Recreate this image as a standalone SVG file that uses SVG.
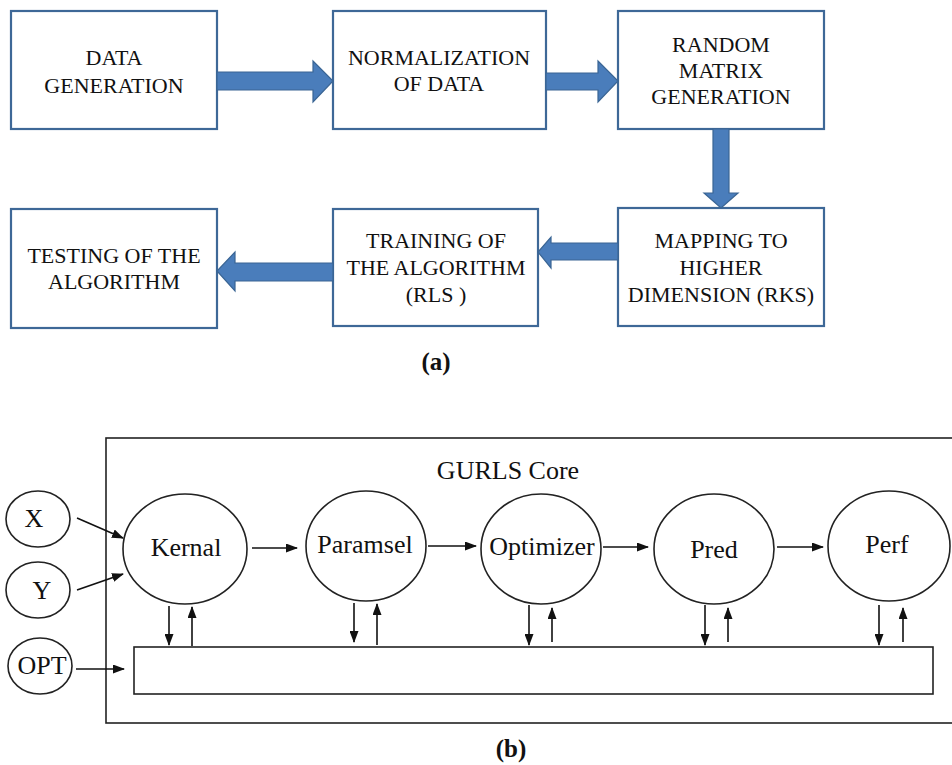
<svg xmlns="http://www.w3.org/2000/svg" width="952" height="765" viewBox="0 0 952 765">
  <defs>
    <style>
      .box { fill: #ffffff; stroke: #3e6897; stroke-width: 2.2; }
      .big { fill: #4a7dbb; stroke: #3a6594; stroke-width: 1.2; }
      text { font-family: 'Liberation Serif', 'DejaVu Serif', 'Times New Roman', serif; fill: #111; text-anchor: middle; }
      .t { font-size: 22px; }
      .tb { font-size: 26px; }
      .cap { font-size: 25px; font-weight: bold; }
      .shape { fill: #ffffff; stroke: #222; stroke-width: 1.6; }
      .ln { fill: none; stroke: #111; stroke-width: 1.6; marker-end: url(#ah); }
    </style>
    <marker id="ah" viewBox="0 0 12 9" refX="11" refY="4.5" markerWidth="12" markerHeight="9" markerUnits="userSpaceOnUse" orient="auto">
      <path d="M0,0 L12,4.5 L0,9 z" fill="#111"/>
    </marker>
  </defs>

  <!-- (a) pipeline -->
  <g id="a-data-generation">
    <rect class="box" x="11" y="11" width="206" height="118"/>
    <text class="t" x="114" y="65">DATA</text>
    <text class="t" x="114" y="93">GENERATION</text>
  </g>
  <g id="a-normalization">
    <rect class="box" x="333" y="11" width="213" height="118"/>
    <text class="t" x="439" y="65">NORMALIZATION</text>
    <text class="t" x="439" y="91">OF DATA</text>
  </g>
  <g id="a-random-matrix">
    <rect class="box" x="618" y="11" width="206" height="118"/>
    <text class="t" x="721" y="52">RANDOM</text>
    <text class="t" x="721" y="78">MATRIX</text>
    <text class="t" x="721" y="104">GENERATION</text>
  </g>
  <g id="a-mapping">
    <rect class="box" x="618" y="208" width="206" height="118"/>
    <text class="t" x="721" y="248">MAPPING TO</text>
    <text class="t" x="721" y="275">HIGHER</text>
    <text class="t" x="721" y="302">DIMENSION (RKS)</text>
  </g>
  <g id="a-training">
    <rect class="box" x="333" y="209" width="205" height="117"/>
    <text class="t" x="436" y="248">TRAINING OF</text>
    <text class="t" x="436" y="275">THE ALGORITHM</text>
    <text class="t" x="436" y="302">(RLS )</text>
  </g>
  <g id="a-testing">
    <rect class="box" x="11" y="209" width="206" height="119"/>
    <text class="t" x="114" y="263">TESTING OF THE</text>
    <text class="t" x="114" y="289">ALGORITHM</text>
  </g>

  <g id="a-connectors">
    <path class="big" d="M217,72 L313,72 L313,61 L333,81 L313,102 L313,90 L217,90 z"/>
    <path class="big" d="M546,73 L598,73 L598,61 L618,81 L598,102 L598,90 L546,90 z"/>
    <path class="big" d="M713,129 L729,129 L729,193 L738,193 L721,208 L704,193 L713,193 z"/>
    <path class="big" d="M618,243 L551,243 L551,237 L538,252 L551,268 L551,260 L618,260 z"/>
    <path class="big" d="M333,263 L235,263 L235,252 L217,271 L235,291 L235,281 L333,281 z"/>
  </g>

  <text class="cap" x="436" y="370">(a)</text>

  <!-- (b) GURLS core -->
  <g id="b-core">
    <rect x="106" y="438" width="860" height="285" fill="none" stroke="#222" stroke-width="1.6"/>
    <text class="tb" x="508" y="479">GURLS Core</text>
  </g>
  <g id="b-x">
    <ellipse class="shape" cx="38" cy="519" rx="32" ry="28"/>
    <text class="tb" x="34" y="527">X</text>
  </g>
  <g id="b-y">
    <ellipse class="shape" cx="38" cy="590" rx="32" ry="28"/>
    <text class="tb" x="42" y="599">Y</text>
  </g>
  <g id="b-opt">
    <ellipse class="shape" cx="40" cy="666" rx="32" ry="28"/>
    <text class="tb" x="42" y="674">OPT</text>
  </g>
  <g id="b-kernal">
    <ellipse class="shape" cx="185" cy="549" rx="62" ry="55"/>
    <text class="tb" x="186" y="556">Kernal</text>
  </g>
  <g id="b-paramsel">
    <ellipse class="shape" cx="366" cy="546" rx="60" ry="55"/>
    <text class="tb" x="365" y="553">Paramsel</text>
  </g>
  <g id="b-optimizer">
    <ellipse class="shape" cx="541" cy="549" rx="60" ry="55"/>
    <text class="tb" x="542" y="555">Optimizer</text>
  </g>
  <g id="b-pred">
    <ellipse class="shape" cx="714" cy="549" rx="60" ry="55"/>
    <text class="tb" x="714" y="558">Pred</text>
  </g>
  <g id="b-perf">
    <ellipse class="shape" cx="889" cy="546" rx="61" ry="55"/>
    <text class="tb" x="887" y="553">Perf</text>
  </g>
  <g id="b-store">
    <rect class="shape" x="134" y="647" width="799" height="47"/>
  </g>

  <g id="b-connectors">
    <line class="ln" x1="77" y1="518" x2="123" y2="538"/>
    <line class="ln" x1="77" y1="590" x2="123" y2="574"/>
    <line class="ln" x1="76" y1="669" x2="124" y2="669"/>
    <line class="ln" x1="252" y1="548" x2="297" y2="548"/>
    <line class="ln" x1="428" y1="546" x2="476" y2="546"/>
    <line class="ln" x1="603" y1="547" x2="648" y2="547"/>
    <line class="ln" x1="777" y1="547" x2="823" y2="547"/>

    <line class="ln" x1="169" y1="606" x2="169" y2="645"/>
    <line class="ln" x1="192" y1="646" x2="192" y2="607"/>
    <line class="ln" x1="354" y1="603" x2="354" y2="642"/>
    <line class="ln" x1="377" y1="645" x2="377" y2="604"/>
    <line class="ln" x1="529" y1="605" x2="529" y2="645"/>
    <line class="ln" x1="552" y1="642" x2="552" y2="608"/>
    <line class="ln" x1="705" y1="605" x2="705" y2="645"/>
    <line class="ln" x1="728" y1="642" x2="728" y2="608"/>
    <line class="ln" x1="879" y1="605" x2="879" y2="645"/>
    <line class="ln" x1="903" y1="642" x2="903" y2="608"/>
  </g>

  <text class="cap" x="511" y="757">(b)</text>
</svg>
